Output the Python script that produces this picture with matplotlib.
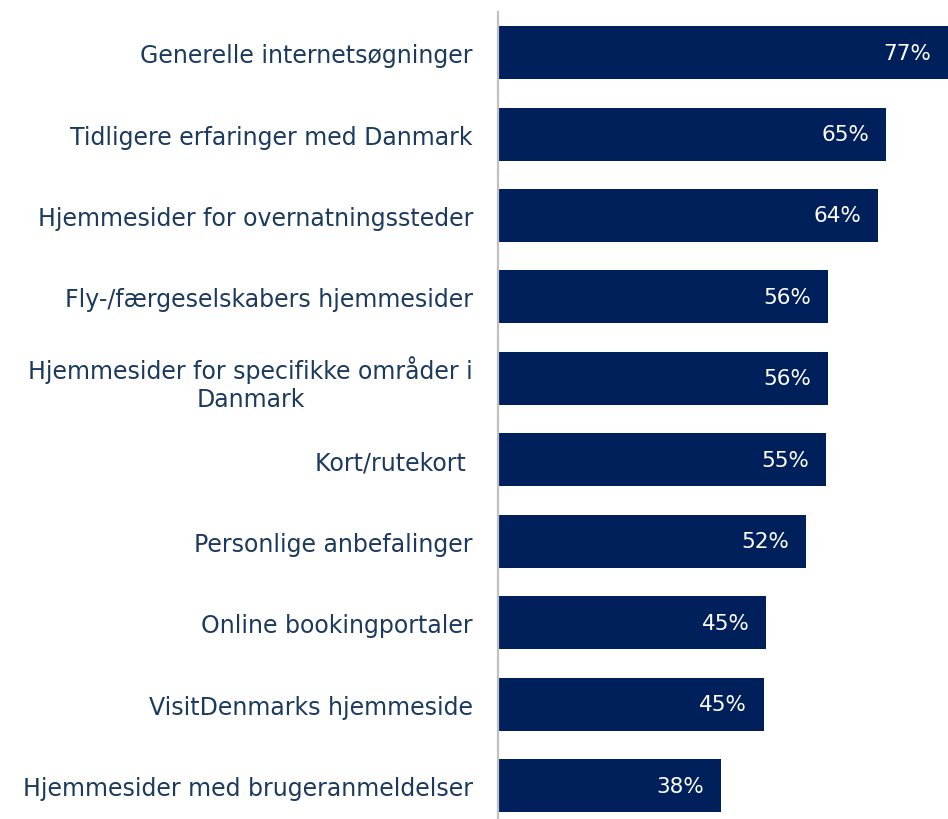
import numpy as np
import matplotlib.pyplot as plt

# data (bar lengths estimated, labels as printed)
categories = [
    "Generelle internetsøgninger",
    "Tidligere erfaringer med Danmark",
    "Hjemmesider for overnatningssteder",
    "Fly-/færgeselskabers hjemmesider",
    "Hjemmesider for specifikke områder i\nDanmark",
    "Kort/rutekort ",
    "Personlige anbefalinger",
    "Online bookingportaler",
    "VisitDenmarks hjemmeside",
    "Hjemmesider med brugeranmeldelser",
]
values = [77, 65.9, 64.6, 56.1, 56.1, 55.8, 52.4, 45.6, 45.2, 37.9]
value_labels = ["77%", "65%", "64%", "56%", "56%", "55%", "52%", "45%", "45%", "38%"]

bar_color = "#00205b"
text_color = "#1c3a5e"

plt.rcParams['font.family'] = ['DejaVu Sans']

fig = plt.figure(figsize=(9.48, 8.2), dpi=100)
ax = fig.add_axes([0.5253, 0.0, 0.4747, 0.984])

y = np.arange(len(categories))
ax.barh(y, values, height=0.65, color=bar_color)

ax.set_xlim(0, 76.5)
ax.set_ylim(9.41, -0.497)

ax.set_yticks(y)
ax.set_yticklabels(categories, fontsize=17, color=text_color)
for lbl in ax.get_yticklabels():
    lbl.set_multialignment('center')
ax.tick_params(axis='y', length=0, pad=18)
ax.set_xticks([])

for s in ['top', 'right', 'bottom']:
    ax.spines[s].set_visible(False)
ax.spines['left'].set_color('#c0c0c0')
ax.spines['left'].set_linewidth(1.6)

for yi, v, t in zip(y, values, value_labels):
    ax.annotate(t, xy=(min(v, 76.5), yi), xytext=(-12, 0), textcoords='offset points',
                ha='right', va='center', color='white', fontsize=15.5)

fig.savefig("out.png", dpi=100)
